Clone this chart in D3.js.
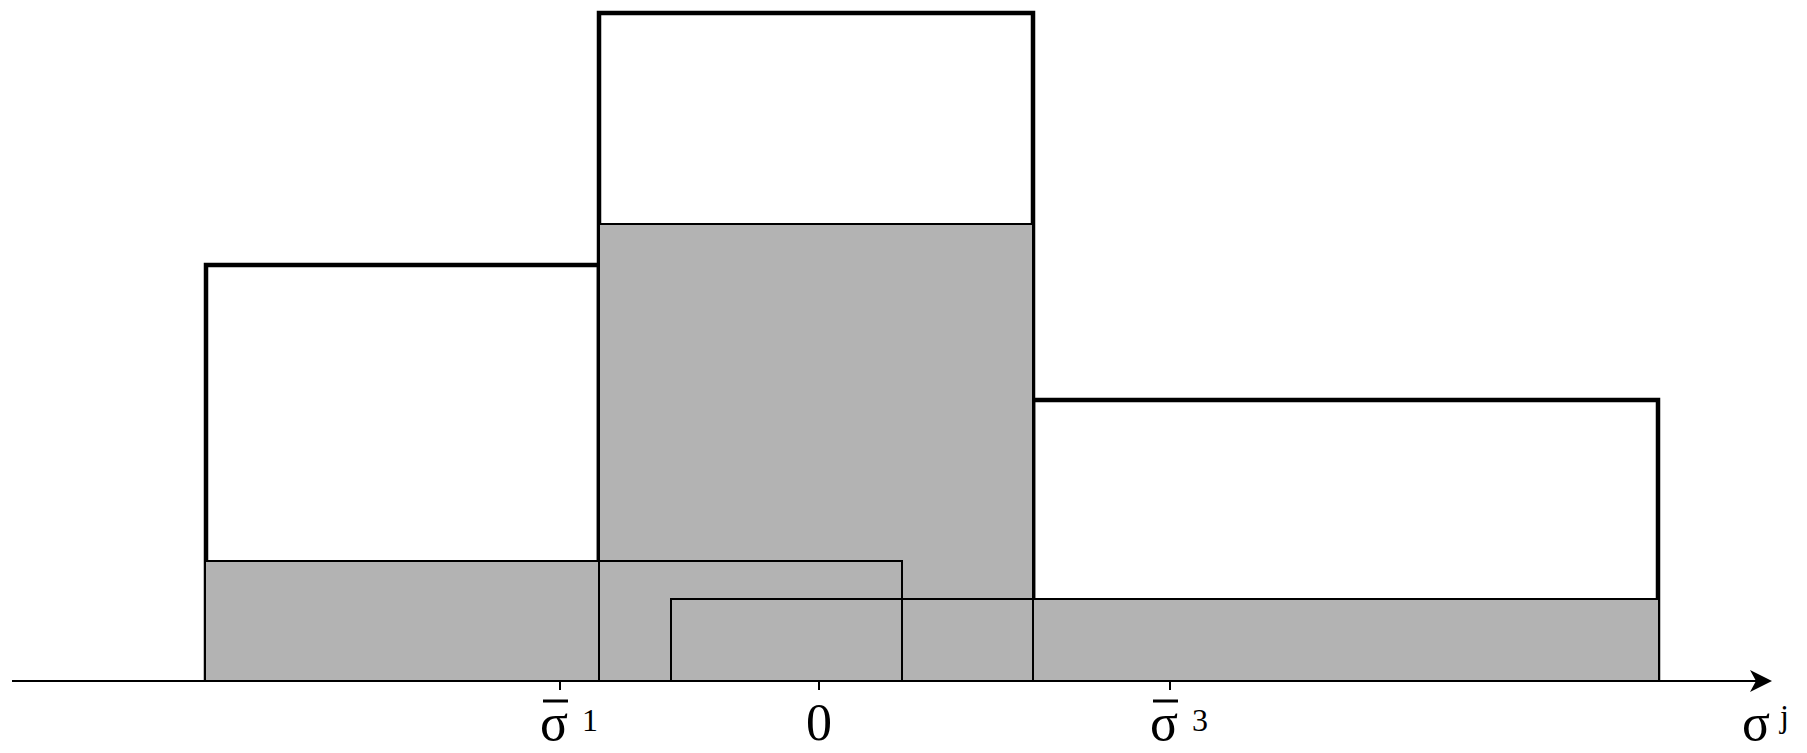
<!DOCTYPE html>
<html><head><meta charset="utf-8">
<script src="https://cdn.jsdelivr.net/npm/d3@7"></script>
<style>body{margin:0;background:#fff} text{font-family:"Liberation Serif","Times New Roman",Times,"DejaVu Serif",serif}</style>
</head><body>
<script>
// bin outlines (thick): [x0, x1, height]
var outlines = [[-6.13, -2.2, 4.16], [-2.2, 2.14, 6.68], [2.14, 8.39, 2.81]];
// shaded blocks: [x0, x1, height]
var blocks = [[-6.14, 0.83, 1.2], [-2.2, 2.14, 4.57], [-1.48, 8.4, 0.82]];
var ticks = [-2.59, 0, 3.51];
var tickLabels = ["σ1", "0", "σ3"];

var W = 1807, H = 753;
var svg = d3.select("body").append("svg").attr("width", W).attr("height", H);
var x = d3.scaleLinear().domain([0, 1]).range([819, 919]);
var y = d3.scaleLinear().domain([0, 1]).range([681, 581]);

outlines.forEach(function(o) {
  svg.append("path")
    .attr("d", "M" + x(o[0]) + "," + y(0) + "V" + y(o[2]) + "H" + x(o[1]) + "V" + y(0))
    .attr("fill", "none").attr("stroke", "#000").attr("stroke-width", 4.5);
});
blocks.forEach(function(b) {
  svg.append("rect").attr("x", x(b[0])).attr("y", y(b[2]))
    .attr("width", x(b[1]) - x(b[0])).attr("height", y(0) - y(b[2]))
    .attr("fill", "#b3b3b3");
});
blocks.forEach(function(b) {
  svg.append("rect").attr("x", x(b[0])).attr("y", y(b[2]))
    .attr("width", x(b[1]) - x(b[0])).attr("height", y(0) - y(b[2]))
    .attr("fill", "none").attr("stroke", "#000").attr("stroke-width", 2);
});

// axis
svg.append("line").attr("x1", 12).attr("x2", 1760).attr("y1", y(0)).attr("y2", y(0))
  .attr("stroke", "#000").attr("stroke-width", 2);
svg.append("path").attr("d", "M1772," + y(0) + "l-22,-11 l6,11 l-6,11z").attr("fill", "#000");

ticks.forEach(function(t, i) {
  svg.append("line").attr("x1", x(t)).attr("x2", x(t)).attr("y1", y(0)).attr("y2", y(0) + 9)
    .attr("stroke", "#000").attr("stroke-width", 2);
  var lab = tickLabels[i];
  if (lab === "0") {
    svg.append("text").attr("x", x(t)).attr("y", 740).attr("text-anchor", "middle")
      .attr("font-size", 52).text("0");
  } else {
    svg.append("text").attr("x", x(t) - 6).attr("y", 740).attr("text-anchor", "middle")
      .attr("font-size", 52).text("σ");
    svg.append("line").attr("x1", x(t) - 17).attr("x2", x(t) + 8).attr("y1", 701).attr("y2", 701)
      .attr("stroke", "#000").attr("stroke-width", 3);
    svg.append("text").attr("x", x(t) + 22).attr("y", 731).attr("text-anchor", "start")
      .attr("font-size", 32).text(lab.slice(1));
  }
});
svg.append("text").attr("x", 1756).attr("y", 740).attr("text-anchor", "middle")
  .attr("font-size", 52).text("σ");
svg.append("text").attr("x", 1780).attr("y", 727)
  .attr("font-size", 32).text("j");
</script>
</body></html>
